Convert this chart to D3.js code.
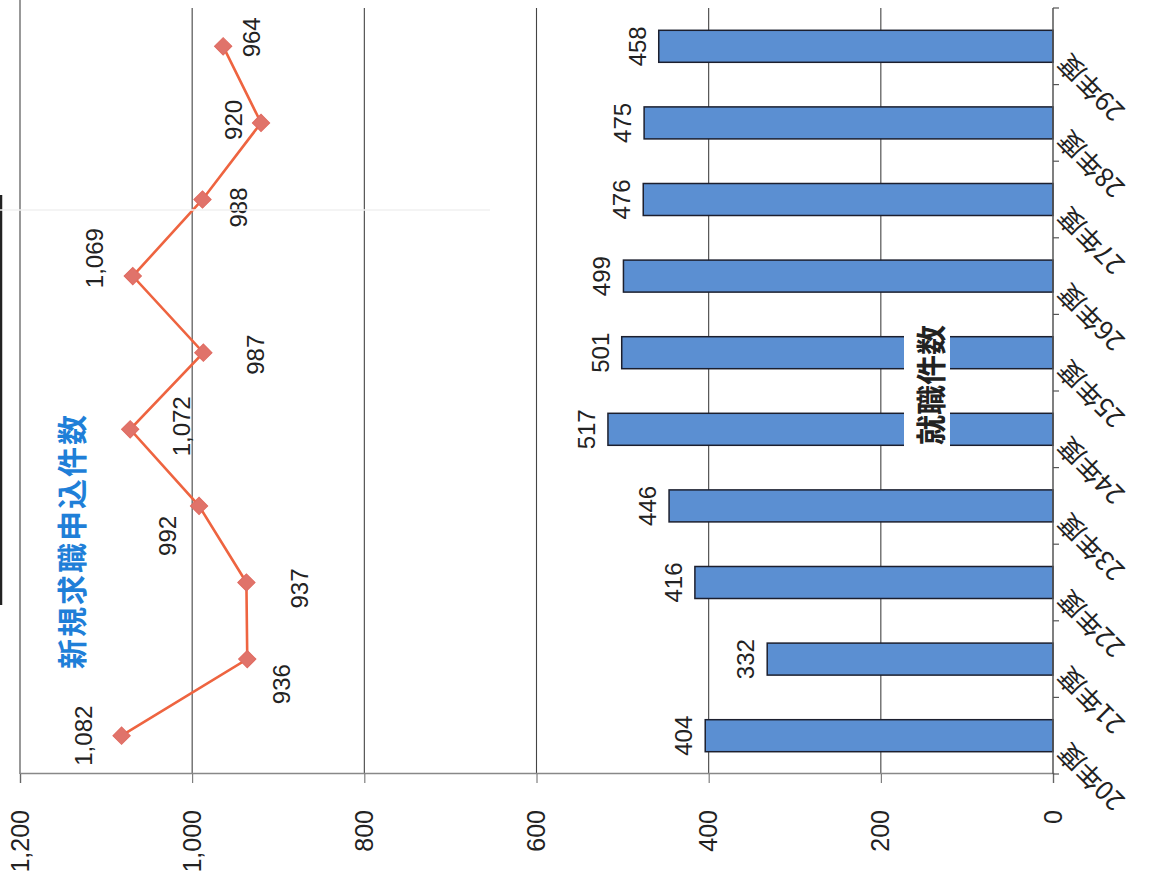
<!DOCTYPE html>
<html><head><meta charset="utf-8">
<script src="https://cdn.jsdelivr.net/npm/d3@7"></script>
<style>body{margin:0;background:#fff}</style>
</head><body><svg id="c" width="1157" height="883"></svg>
<script>
// ---- data ----
const categories = ["20年度","21年度","22年度","23年度","24年度","25年度","26年度","27年度","28年度","29年度"];
const applications = [1082, 936, 937, 992, 1072, 987, 1069, 988, 920, 964];   // 新規求職申込件数
const placements   = [404, 332, 416, 446, 517, 501, 499, 476, 475, 458];       // 就職件数
const valueTicks   = [0, 200, 400, 600, 800, 1000, 1200];
const lineTitle = "新規求職申込件数";
const barTitle  = "就職件数";

// ---- layout (label offsets, in screen px relative to marker) ----
const lineLabelOffsets = [[-38,0],[34,25],[53,6],[-32,30],[51,-3],[52,2],[-38,-18],[36,8],[-28,-3],[28,-9]];

const W = 1157, H = 883;
const svg = d3.select("#c");
svg.append("rect").attr("width", W).attr("height", H).attr("fill", "#fff");

// The whole chart is rotated 90° counter-clockwise.
// local (x,y) -> screen (y, H - x)
const g = svg.append("g").attr("transform", `translate(0,${H}) rotate(-90)`);

const x = d3.scaleBand().domain(categories).range([109, 875]).padding(0);
const y = d3.scaleLinear().domain([0, 1200]).range([1053, 20]);
const cx = c => x(c) + x.bandwidth() / 2;
const numFont = "'Liberation Sans', Arial, sans-serif";
const cjkFont = "'Noto Sans CJK JP', sans-serif";

// gridlines
g.append("g").selectAll("line").data(valueTicks.filter(t => t > 0)).join("line")
  .attr("x1", 109).attr("x2", d => d === 1200 ? 883 : 875)
  .attr("y1", d => y(d)).attr("y2", d => y(d))
  .attr("stroke", "#444").attr("stroke-width", 1.1);

// value axis (original left axis)
const yAxis = d3.axisLeft(y).tickValues(valueTicks).tickFormat(d3.format(",")).tickSize(9).tickPadding(27);
const ya = g.append("g").attr("transform", "translate(109,0)").call(yAxis);
ya.select(".domain").attr("stroke", "#888").attr("stroke-width", 1.5);
ya.selectAll(".tick line").attr("stroke", "#666");
ya.selectAll(".tick text").attr("font-family", numFont).attr("font-size", 25).attr("fill", "#222");

// bars
g.append("g").selectAll("rect").data(placements).join("rect")
  .attr("x", (d, i) => cx(categories[i]) - 16)
  .attr("width", 32)
  .attr("y", d => y(d))
  .attr("height", d => y(0) - y(d))
  .attr("fill", "#5b8fd2").attr("stroke", "#1c1f2e").attr("stroke-width", 1.5);

// bar labels
g.append("g").selectAll("text").data(placements).join("text")
  .attr("x", (d, i) => cx(categories[i]))
  .attr("y", d => y(d) - 13)
  .attr("text-anchor", "middle")
  .attr("font-family", numFont).attr("font-size", 24).attr("fill", "#222")
  .text(d => d3.format(",")(d));

// category axis line (zero line)
g.append("line").attr("x1", 109).attr("x2", 875).attr("y1", y(0)).attr("y2", y(0))
  .attr("stroke", "#555").attr("stroke-width", 1.5);
g.append("g").selectAll("line").data(d3.range(categories.length + 1)).join("line")
  .attr("x1", i => 109 + i * x.step()).attr("x2", i => 109 + i * x.step())
  .attr("y1", y(0)).attr("y2", y(0) + 6)
  .attr("stroke", "#555").attr("stroke-width", 1.2);

// category labels
g.append("g").selectAll("text").data(categories).join("text")
  .attr("transform", d => `translate(${cx(d) - 6},${y(0) + 16}) rotate(-45)`)
  .attr("text-anchor", "end")
  .attr("font-family", cjkFont).attr("font-size", 26).attr("fill", "#222")
  .text(d => d);

// line series
const line = d3.line().x((d, i) => cx(categories[i])).y(d => y(d));
g.append("path").datum(applications).attr("d", line)
  .attr("fill", "none").attr("stroke", "#ee6440").attr("stroke-width", 2.6);
g.append("g").selectAll("path").data(applications).join("path")
  .attr("d", d3.symbol(d3.symbolSquare, 150))
  .attr("transform", (d, i) => `translate(${cx(categories[i])},${y(d)}) rotate(45)`)
  .attr("fill", "#e0736a").attr("stroke", "#e06a60").attr("stroke-width", 1);

// line labels (offsets given in screen px: sx -> local y, sy -> -local x)
g.append("g").selectAll("text").data(applications).join("text")
  .attr("x", (d, i) => cx(categories[i]) - lineLabelOffsets[i][1])
  .attr("y", (d, i) => y(d) + lineLabelOffsets[i][0])
  .attr("text-anchor", "middle").attr("dominant-baseline", "central")
  .attr("font-family", numFont).attr("font-size", 24).attr("fill", "#222")
  .text(d => d3.format(",")(d));

// series titles
g.append("text").attr("x", H - 541).attr("y", 70)
  .attr("text-anchor", "middle").attr("dominant-baseline", "central")
  .attr("font-family", cjkFont).attr("font-weight", "bold").attr("font-size", 30)
  .attr("letter-spacing", 2).attr("fill", "#1f7fd8").text(lineTitle);

g.append("rect").attr("x", H - 452).attr("y", 904).attr("width", 134).attr("height", 46).attr("fill", "#fff");
g.append("text").attr("x", H - 385).attr("y", 929)
  .attr("text-anchor", "middle").attr("dominant-baseline", "central")
  .attr("font-family", cjkFont).attr("font-weight", "bold").attr("font-size", 30)
  .attr("fill", "#222").text(barTitle);

// scan artefacts at the left edge
svg.append("line").attr("x1", 1).attr("x2", 1).attr("y1", 195).attr("y2", 605)
  .attr("stroke", "#222").attr("stroke-width", 2.5);
svg.append("line").attr("x1", 0).attr("x2", 490).attr("y1", 210).attr("y2", 210)
  .attr("stroke", "#f0f0f0").attr("stroke-width", 1.5);
</script></body></html>
